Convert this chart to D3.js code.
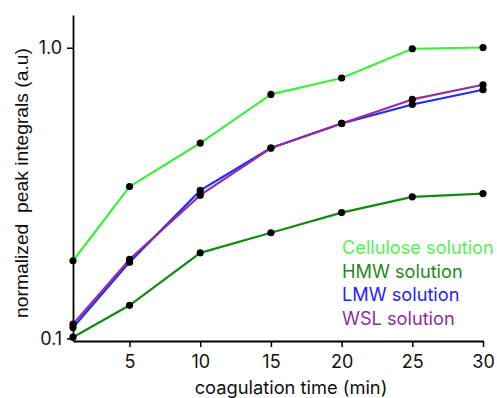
<!DOCTYPE html>
<html><head><meta charset="utf-8">
<script src="https://cdn.jsdelivr.net/npm/d3@7"></script>
<style>html,body{margin:0;padding:0;background:#fff;}svg{display:block;}</style>
</head><body>
<svg id="c" width="497" height="398"></svg>
<script>
const times = [1, 5, 10, 15, 20, 25, 30];
const cellulose = [0.185, 0.333, 0.470, 0.691, 0.787, 0.992, 1.002];
const hmw = [0.101, 0.130, 0.197, 0.231, 0.271, 0.307, 0.315];
const lmw = [0.109, 0.183, 0.323, 0.452, 0.549, 0.638, 0.717];
const wsl = [0.112, 0.187, 0.311, 0.452, 0.549, 0.664, 0.746];
const xTicks = [5, 10, 15, 20, 25, 30];
const yTicks = [0.1, 1.0];
const seriesNames = ["Cellulose solution", "HMW solution", "LMW solution", "WSL solution"];
const seriesColors = ["#3bf03b", "#128a12", "#1a2cff", "#952d9a"];
const legendColors = ["#55f055", "#1d8a1d", "#1e22ff", "#8e2f96"];
const seriesValues = [cellulose, hmw, lmw, wsl];

const font = "Inter, 'Open Sans', sans-serif";
const svg = d3.select("#c");
const x = d3.scaleLinear().domain([1, 30]).range([73, 483]);
const y = d3.scaleLog().domain([0.098, 1.296]).range([341, 15]);

// axes
const xAxis = svg.append("g").attr("transform", "translate(0,341)")
  .call(d3.axisBottom(x).tickValues(xTicks).tickSize(6).tickSizeOuter(0).tickFormat(d3.format("d")));
const yAxis = svg.append("g").attr("transform", "translate(73,0)")
  .call(d3.axisLeft(y).tickValues(yTicks).tickSize(6).tickSizeOuter(0).tickFormat(d3.format(".1f")));
[xAxis, yAxis].forEach(g => {
  g.select(".domain").attr("stroke", "#000").attr("stroke-width", 1.8);
  g.selectAll(".tick line").attr("stroke", "#000").attr("stroke-width", 1.5);
  g.selectAll(".tick text").attr("font-family", font).attr("font-size", 18).attr("fill", "#111");
});
xAxis.selectAll(".tick text").attr("dy", null).attr("y", 27).attr("dominant-baseline", "alphabetic");
yAxis.selectAll(".tick text").attr("dx", "-0.1em");

// lines
const line = d3.line().x((d, i) => x(times[i])).y(d => y(d));
seriesValues.forEach((vals, k) => {
  svg.append("path").datum(vals).attr("d", line)
    .attr("fill", "none").attr("stroke", seriesColors[k]).attr("stroke-width", 2.2)
    .attr("stroke-linejoin", "round");
});
seriesValues.forEach(vals => {
  svg.append("g").selectAll("circle").data(vals).join("circle")
    .attr("cx", (d, i) => x(times[i])).attr("cy", d => y(d)).attr("r", 3.6).attr("fill", "#000");
});

// legend
seriesNames.forEach((n, k) => {
  svg.append("text").attr("x", 342).attr("y", 254 + k * 23.7)
    .attr("font-family", font).attr("font-size", 18.2).attr("fill", legendColors[k]).text(n);
});

// axis titles
svg.append("text").attr("x", 291).attr("y", 394).attr("text-anchor", "middle")
  .attr("font-family", font).attr("font-size", 18.3).attr("fill", "#111").text("coagulation time (min)");
const yt = svg.append("text").attr("transform", "translate(28,183) rotate(-90)").attr("text-anchor", "middle")
  .attr("font-family", "'Liberation Sans', Arial, sans-serif").attr("font-size", 16).attr("fill", "#111")
  .attr("xml:space", "preserve").style("white-space", "pre").text("normalized  peak integrals (a.u)");
const w = yt.node().getComputedTextLength();
yt.attr("font-size", 16 * 270 / w);
</script>
</body></html>
